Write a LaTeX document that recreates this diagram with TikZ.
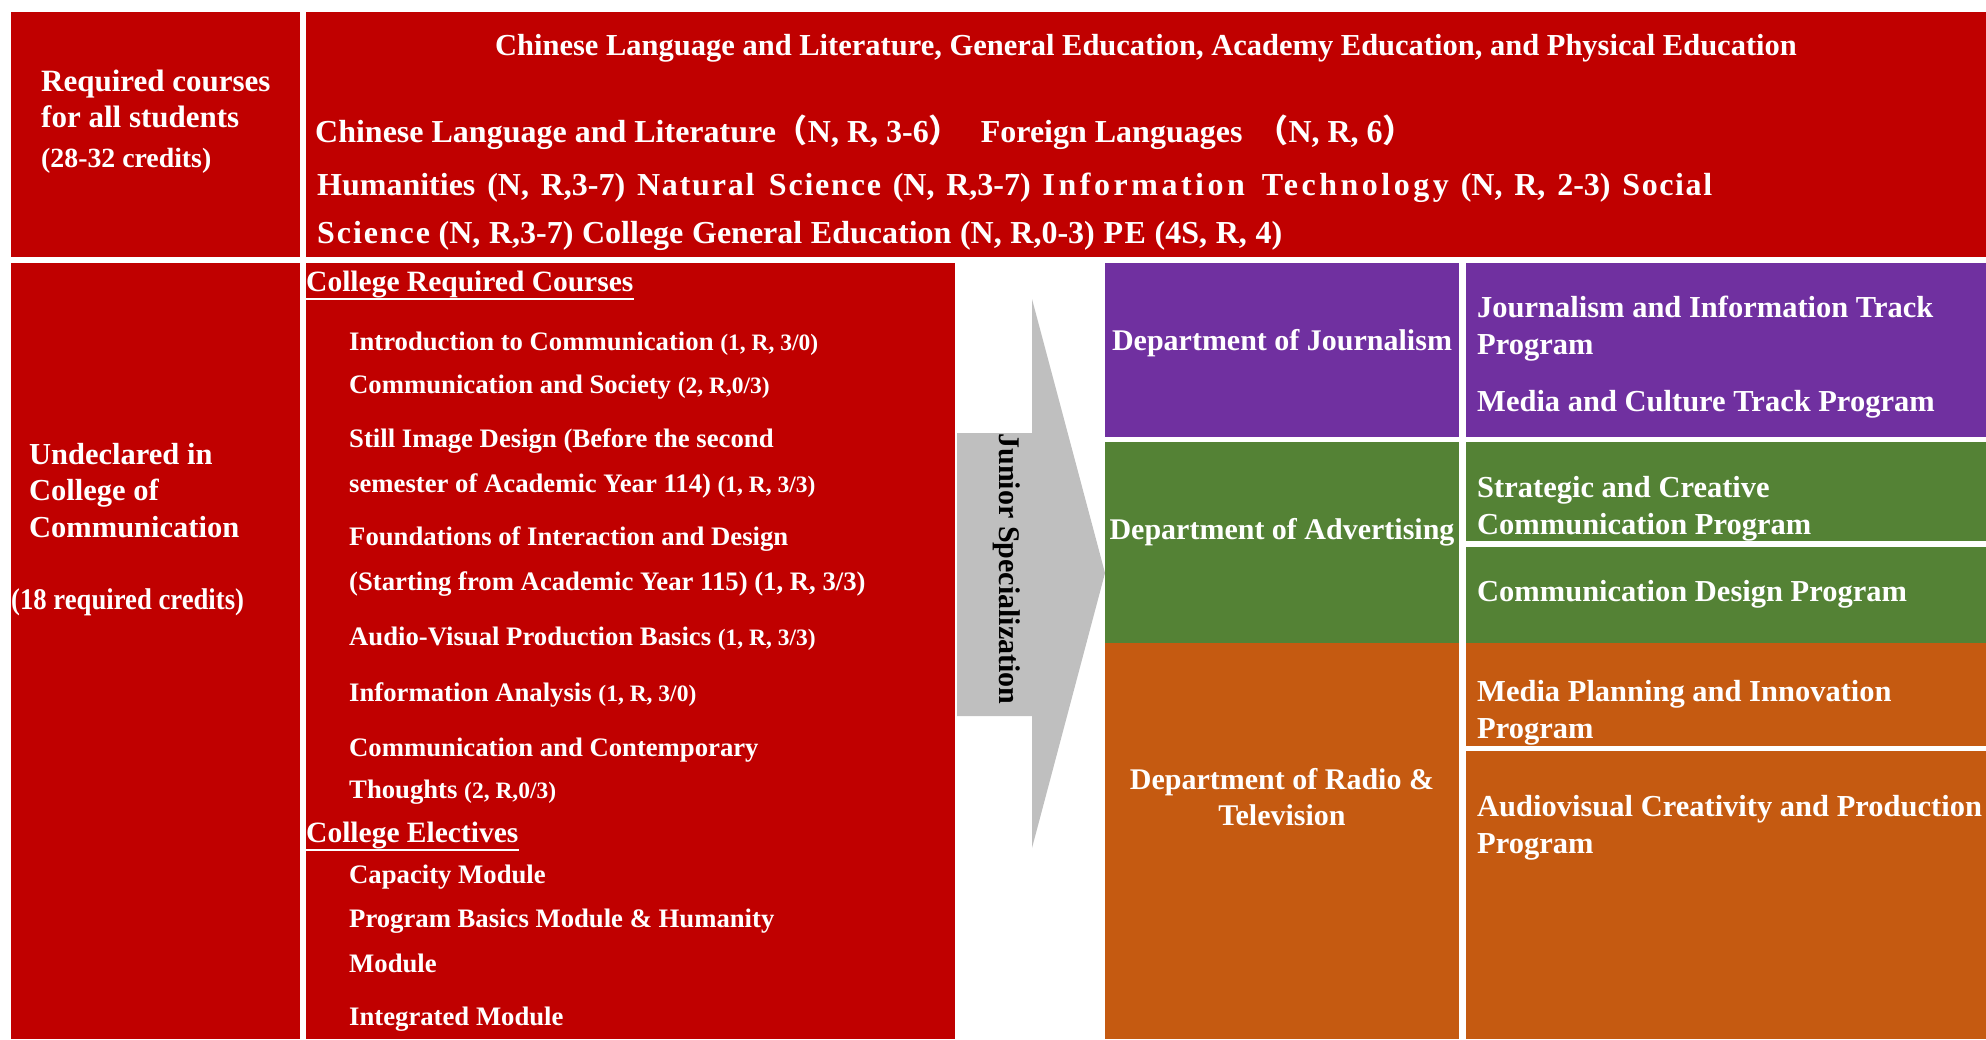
\documentclass[tikz,border=0pt]{standalone}
\usepackage{fontspec}
\setmainfont{Liberation Serif}
\newfontfamily\cjkfont{Noto Sans CJK SC}
\usepackage{tikz}
\usetikzlibrary{positioning}

\definecolor{collred}{HTML}{C00000}
\definecolor{jourpurple}{HTML}{7030A0}
\definecolor{advgreen}{HTML}{548235}
\definecolor{rtvorange}{HTML}{C55A11}
\definecolor{arrowgray}{HTML}{BFBFBF}

\newcommand{\cred}[1]{{\fontsize{23.5}{27}\selectfont #1}}
\newcommand{\fwl}{{\cjkfont （}}
\newcommand{\fwr}{{\cjkfont ）}}
\newcommand{\spaced}[2]{{\addfontfeature{LetterSpace=#1}#2}}

\tikzset{
    cell/.style={anchor=north west, inner sep=0pt, outer sep=0pt},
    wtext/.style={text=white, inner sep=0pt, yshift=-2.5pt,
        font=\bfseries\fontsize{30.5}{36.5}\selectfont},
    topline/.style={wtext, anchor=west,
        font=\bfseries\fontsize{32}{38}\selectfont},
    course/.style={wtext, anchor=west,
        font=\bfseries\fontsize{26.7}{32}\selectfont},
    subhead/.style={wtext, anchor=west,
        font=\bfseries\fontsize{29.5}{35}\selectfont},
    program/.style={wtext, anchor=west, align=left,
        font=\bfseries\fontsize{30.5}{37}\selectfont},
    dept/.style={wtext, align=center,
        font=\bfseries\fontsize{30}{36}\selectfont},
}

\begin{document}
\begin{tikzpicture}[x=1pt, y=-1pt]

    \useasboundingbox (0,0) rectangle (1986,1039);

    % Required courses row
    \node[cell, fill=collred, minimum width=289, minimum height=245] (allhead) at (11,12) {};
    \node[cell, fill=collred, minimum width=1680, minimum height=245] (allbody) at (306,12) {};

    \node[wtext, anchor=west, align=left, font=\bfseries\fontsize{31}{36}\selectfont] (alltitle) at (41,119)
        {Required courses\\for all students\\[4pt]{\fontsize{27.8}{32}\selectfont (28-32 credits)}};

    \node[wtext] (gentitle) at (1146,45.5)
        {Chinese Language and Literature, General Education, Academy Education, and Physical Education};

    \node[topline] (genline1) at (315,129.5)
        {Chinese Language and Literature\fwl N, R, 3-6\fwr\hspace{20pt}Foreign Languages\hspace{6pt} \fwl N, R, 6\fwr};
    \node[topline] (genline2) at (317,185)
        {\makebox[1395pt][s]{Humanities (N, R,3-7) \spaced{5.6}{Natural Science} (N, R,3-7)
        \spaced{11}{Information Technology} (N, R, 2-3) \spaced{5}{Social}}};
    \node[topline] (genline3) at (317,233)
        {\makebox[965pt][s]{\spaced{6}{Science} (N, R,3-7) College General Education (N, R,0-3) \spaced{5}{PE} (4S, R, 4)}};

    % Undeclared row
    \node[cell, fill=collred, minimum width=289, minimum height=776] (undecl) at (11,263) {};
    \node[cell, fill=collred, minimum width=649, minimum height=776] (collbox) at (306,263) {};

    \node[wtext, anchor=west, align=left] (undtitle) at (29,488)
        {Undeclared in\\College of\\Communication};
    \node[wtext, anchor=west, font=\bfseries\fontsize{30}{36}\selectfont] (undcred) at (11,600)
        {\scalebox{0.89}[1]{(18 required credits)}};

    % College required courses
    \node[subhead] (reqhead) at (306,282) {College Required Courses};
    \draw[white, line width=2.5] ([yshift=-1]reqhead.south west) -- ([yshift=-1]reqhead.south east);

    \node[course] (intro) at (349,341) {Introduction to Communication \cred{(1, R, 3/0)}};
    \node[course] (society) at (349,385) {Communication and Society \cred{(2, R,0/3)}};
    \node[course] (stilla) at (349,439) {Still Image Design (Before the second};
    \node[course] (stillb) at (349,483) {semester of Academic Year 114) \cred{(1, R, 3/3)}};
    \node[course] (founda) at (349,537) {Foundations of Interaction and Design};
    \node[course] (foundb) at (349,582) {(Starting from Academic Year 115) (1, R, 3/3)};
    \node[course] (avbasic) at (349,636) {Audio-Visual Production Basics \cred{(1, R, 3/3)}};
    \node[course] (infoana) at (349,692) {Information Analysis \cred{(1, R, 3/0)}};
    \node[course] (contempa) at (349,748) {Communication and Contemporary};
    \node[course] (contempb) at (349,790) {Thoughts \cred{(2, R,0/3)}};

    % College electives
    \node[subhead] (elechead) at (306,833) {College Electives};
    \draw[white, line width=2.5] ([yshift=-1]elechead.south west) -- ([yshift=-1]elechead.south east);

    \node[course] (capmod) at (349,875) {Capacity Module};
    \node[course] (basica) at (349,919) {Program Basics Module \& Humanity};
    \node[course] (basicb) at (349,961) {Module};
    \node[course] (integ) at (349,1017) {Integrated Module};

    % Arrow
    \fill[arrowgray] (957,433) -- (1032,433) -- (1032,299) -- (1105,573)
        -- (1032,848) -- (1032,716) -- (957,716) -- cycle;
    \node[inner sep=0pt, rotate=-90, font=\bfseries\fontsize{30}{32}\selectfont] (junior) at (1007,569)
        {Junior Specialization};

    % Journalism
    \node[cell, fill=jourpurple, minimum width=354, minimum height=174] (jourdept) at (1105,263) {};
    \node[cell, fill=jourpurple, minimum width=520, minimum height=174] (jourprog) at (1466,263) {};
    \node[dept] (journame) at (1282,341) {Department of Journalism};
    \node[program] (jourtrack) at (1477,326.5) {Journalism and Information Track\\Program};
    \node[program] (culttrack) at (1477,402) {Media and Culture Track Program};

    % Advertising
    \node[cell, fill=advgreen, minimum width=354, minimum height=201] (advdept) at (1105,442) {};
    \node[cell, fill=advgreen, minimum width=520, minimum height=99] (advproga) at (1466,442) {};
    \node[cell, fill=advgreen, minimum width=520, minimum height=96] (advprogb) at (1466,547) {};
    \node[dept] (advname) at (1282,530) {Department of Advertising};
    \node[program] (stratprog) at (1477,506.5) {Strategic and Creative\\Communication Program};
    \node[program] (designprog) at (1477,592) {Communication Design Program};

    % Radio & Television
    \node[cell, fill=rtvorange, minimum width=354, minimum height=396] (rtvdept) at (1105,643) {};
    \node[cell, fill=rtvorange, minimum width=520, minimum height=103] (rtvproga) at (1466,643) {};
    \node[cell, fill=rtvorange, minimum width=520, minimum height=288] (rtvprogb) at (1466,751) {};
    \node[dept] (rtvname) at (1282,795) {Department of Radio \&\\Television};
    \node[program] (planprog) at (1477,710) {Media Planning and Innovation\\Program};
    \node[program] (avprog) at (1477,825) {Audiovisual Creativity and Production\\Program};

\end{tikzpicture}
\end{document}
